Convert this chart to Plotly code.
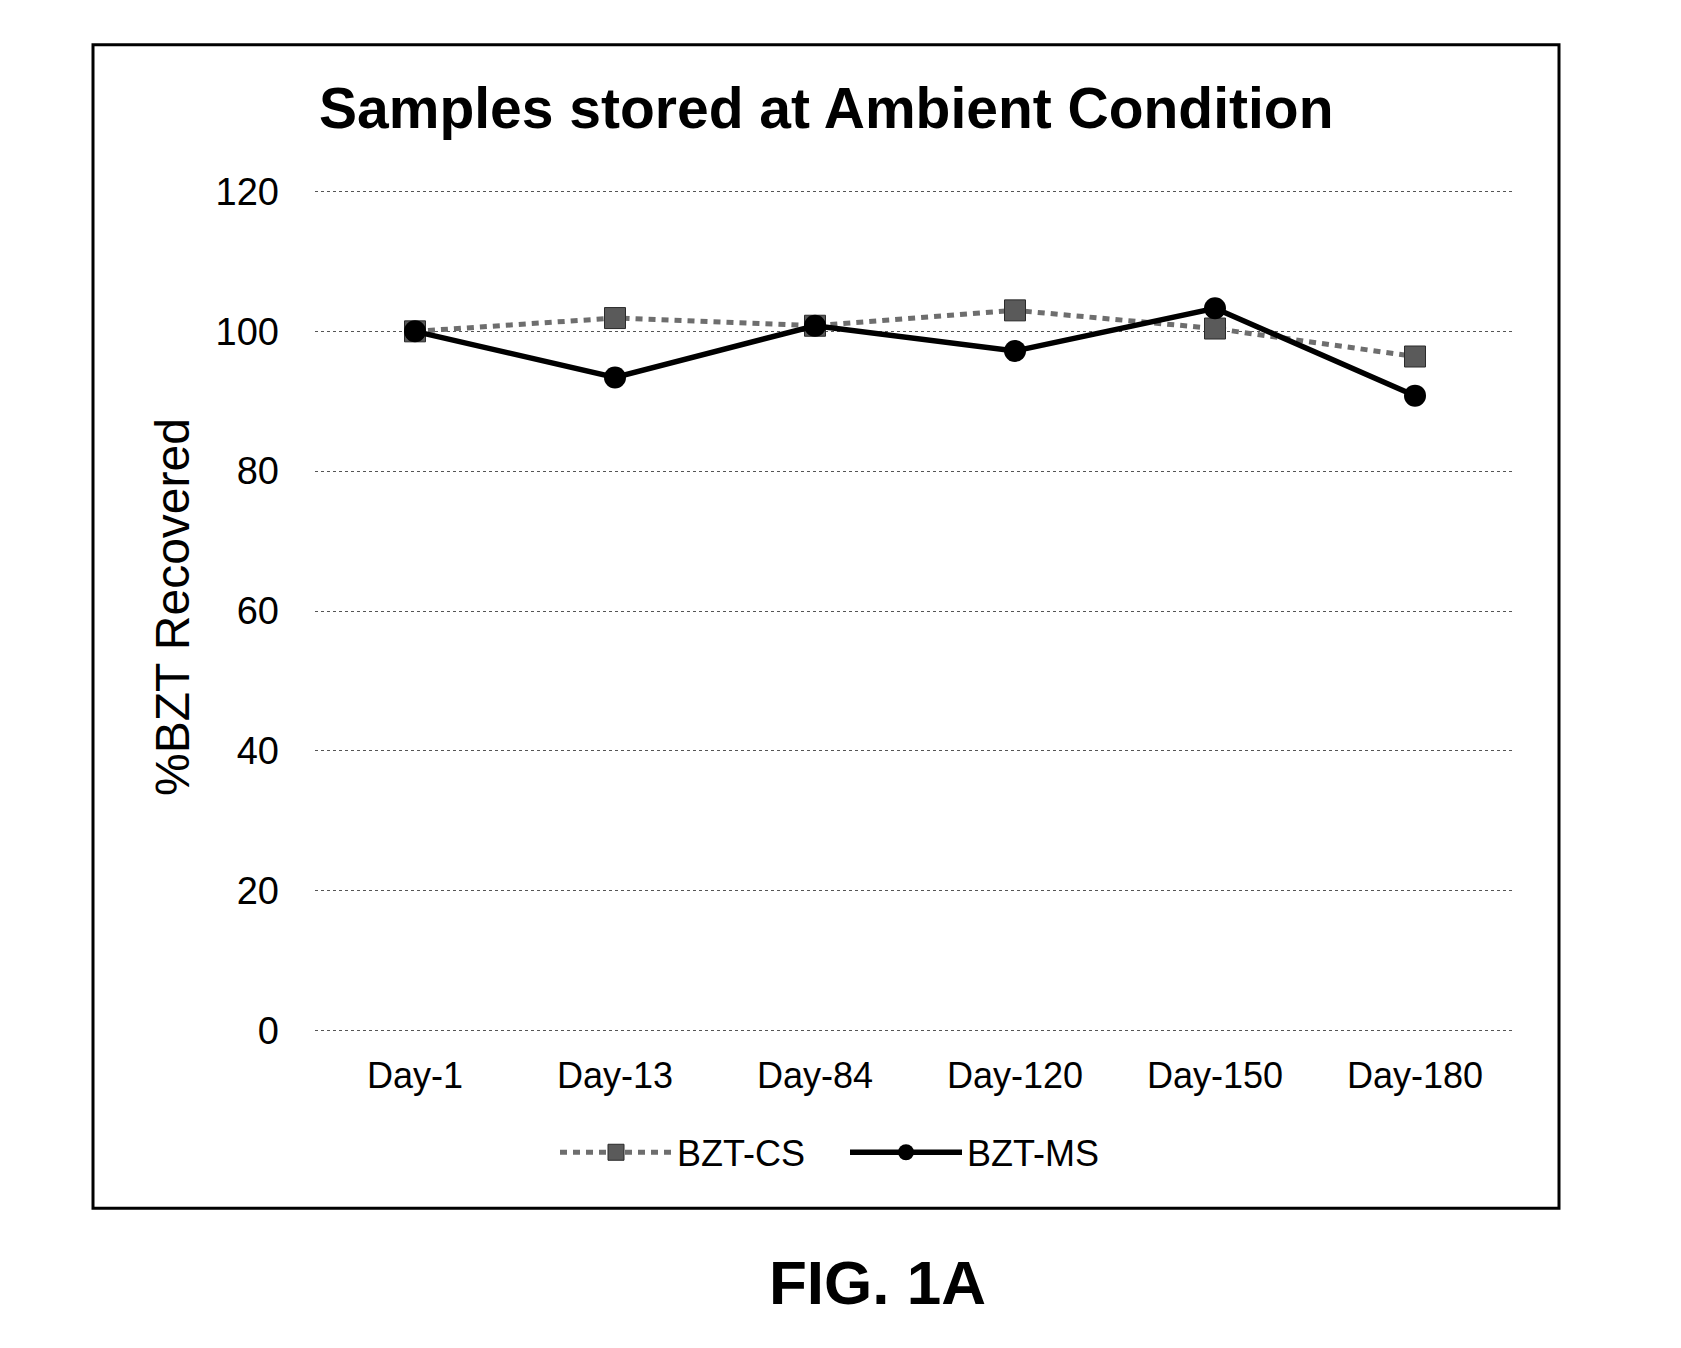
import plotly.graph_objects as go

categories = ["Day-1", "Day-13", "Day-84", "Day-120", "Day-150", "Day-180"]
bzt_cs = [100.0, 101.9, 100.8, 103.0, 100.4, 96.4]
bzt_ms = [100.0, 93.4, 100.8, 97.2, 103.3, 90.8]
y_ticks = [0, 20, 40, 60, 80, 100, 120]

FONT = "Arial, Liberation Sans, sans-serif"

W, H = 1681, 1348
PAD = 0.5  # data units of padding so edge gridlines are drawn
PXU = 7.0  # pixels per data unit
L, R = 315, 1515
T = 191 - PAD * PXU
B = 1031 + PAD * PXU

def px(xp):
    return (xp - L) / (R - L)

def py(yp):
    return (B - yp) / (B - T)

fig = go.Figure()
fig.add_trace(go.Scatter(
    x=categories, y=bzt_cs, name="BZT-CS", mode="lines+markers",
    line=dict(color="#6e6e6e", width=5, dash="7px,6px"),
    marker=dict(symbol="square", size=21, color="#5a5a5a",
                line=dict(color="#2a2a2a", width=1)),
))
fig.add_trace(go.Scatter(
    x=categories, y=bzt_ms, name="BZT-MS", mode="lines+markers",
    line=dict(color="black", width=5.5),
    marker=dict(symbol="circle", size=22, color="black"),
))

fig.update_layout(
    width=W, height=H,
    margin=dict(l=L, r=W - R, t=T, b=H - B, pad=0),
    paper_bgcolor="white", plot_bgcolor="white",
    font=dict(family=FONT, color="black", size=36),
    showlegend=True,
    legend=dict(orientation="h", x=px(555), xanchor="left",
                y=py(1153), yanchor="middle",
                font=dict(size=36, family=FONT), itemwidth=112,
                entrywidth=163, entrywidthmode="pixels",
                bgcolor="rgba(0,0,0,0)", traceorder="normal"),
    xaxis=dict(type="category", showgrid=False, zeroline=False,
               showline=False, ticks="", ticklabelstandoff=17,
               tickfont=dict(size=36, family=FONT),
               range=[-0.5, 5.5]),
    yaxis=dict(range=[-PAD, 120 + PAD], tickvals=y_ticks, showgrid=True,
               gridcolor="#555", griddash="dot", gridwidth=1,
               zeroline=False, showline=False, ticks="",
               ticklabelstandoff=35,
               tickfont=dict(size=38, family=FONT)),
)

# y-axis title
fig.add_annotation(text="%BZT Recovered", xref="paper", yref="paper",
                   x=px(172), y=py(607), xanchor="center", yanchor="middle",
                   textangle=-90, showarrow=False,
                   font=dict(size=48, family=FONT, color="black"))
# chart title
fig.add_annotation(text="<b>Samples stored at Ambient Condition</b>",
                   xref="paper", yref="paper", x=px(826), y=py(107),
                   xanchor="center", yanchor="middle", showarrow=False,
                   font=dict(size=57, family=FONT, color="black"))
# figure caption
fig.add_annotation(text="<b>FIG. 1A</b>", xref="paper", yref="paper",
                   x=px(877), y=py(1283), xanchor="center", yanchor="middle",
                   showarrow=False,
                   font=dict(size=62, family=FONT, color="black"))
# outer frame
fig.add_shape(type="rect", xref="paper", yref="paper",
              x0=px(93), x1=px(1559), y0=py(1209), y1=py(44),
              line=dict(color="black", width=3), fillcolor="rgba(0,0,0,0)",
              layer="above")

fig.write_html("out.html")
